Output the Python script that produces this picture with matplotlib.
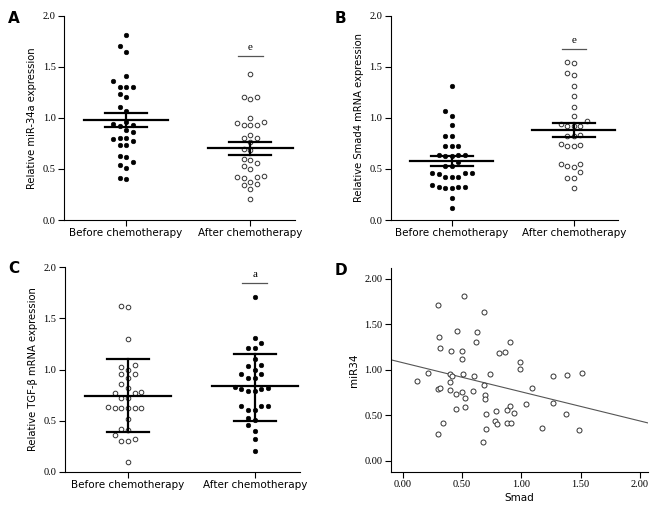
import numpy as np
import matplotlib
matplotlib.use("Agg")
import matplotlib.pyplot as plt

# ---- values ----
groups = ["Before chemotherapy", "After chemotherapy"]

mir_before = [1.81, 1.70, 1.64, 1.41, 1.36, 1.30, 1.30, 1.30, 1.23, 1.20, 1.11, 1.07,
              0.96, 0.94, 0.93, 0.92, 0.88, 0.86, 0.80, 0.80, 0.79, 0.77, 0.73, 0.73,
              0.63, 0.62, 0.57, 0.54, 0.51, 0.41, 0.40]
mir_after = [1.43, 1.20, 1.20, 1.18, 1.00, 0.96, 0.95, 0.93, 0.93, 0.93, 0.83, 0.80,
             0.80, 0.76, 0.69, 0.68, 0.60, 0.59, 0.56, 0.53, 0.50, 0.43, 0.42, 0.42,
             0.41, 0.37, 0.355, 0.34, 0.30, 0.21]
mir_mean = [0.98, 0.70]
mir_err = [0.07, 0.065]

smad_before = [1.31, 1.07, 1.02, 0.93, 0.82, 0.82, 0.72, 0.72, 0.72, 0.64, 0.64, 0.63,
               0.63, 0.64, 0.57, 0.53, 0.53, 0.46, 0.45, 0.46, 0.46, 0.42, 0.42, 0.42,
               0.32, 0.32, 0.31, 0.31, 0.32, 0.345, 0.22, 0.12]
smad_after = [1.55, 1.54, 1.44, 1.42, 1.31, 1.21, 1.11, 1.02, 0.97, 0.94, 0.92, 0.92,
              0.92, 0.83, 0.82, 0.82, 0.74, 0.73, 0.72, 0.72, 0.55, 0.55, 0.53, 0.52,
              0.47, 0.41, 0.41, 0.31]
smad_mean = [0.58, 0.88]
smad_err = [0.05, 0.07]

tgf_before = [1.625, 1.61, 1.30, 1.04, 1.02, 1.00, 0.96, 0.955, 0.92, 0.855, 0.815,
              0.78, 0.77, 0.77, 0.72, 0.72, 0.63, 0.62, 0.62, 0.62, 0.62, 0.62, 0.52,
              0.42, 0.41, 0.36, 0.32, 0.30, 0.30, 0.10]
tgf_after = [1.71, 1.305, 1.255, 1.21, 1.21, 1.10, 1.04, 1.03, 1.00, 0.96, 0.955, 0.92,
             0.92, 0.83, 0.815, 0.81, 0.81, 0.79, 0.79, 0.64, 0.64, 0.64, 0.60, 0.60,
             0.53, 0.51, 0.46, 0.40, 0.32, 0.205]
tgf_mean = [0.74, 0.84]
tgf_lo = [0.39, 0.50]
tgf_hi = [1.10, 1.15]

smad_x = [0.118, 0.216, 0.298, 0.31, 0.315, 0.30, 0.315, 0.295, 0.337, 0.399, 0.413,
          0.40, 0.40, 0.41, 0.447, 0.447, 0.455, 0.497, 0.503, 0.503, 0.51, 0.517,
          0.525, 0.522, 0.60, 0.596, 0.615, 0.624, 0.688, 0.688, 0.697, 0.697, 0.70,
          0.70, 0.68, 0.736, 0.81, 0.86, 0.79, 0.775, 0.80, 0.88, 0.905, 0.905, 0.88,
          0.91, 0.94, 0.994, 0.994, 1.04, 1.087, 1.177, 1.27, 1.27, 1.38, 1.39, 1.49, 1.51]
mir_y = [0.88, 0.97, 1.71, 1.36, 1.24, 0.79, 0.80, 0.30, 0.41, 0.95, 0.93,
         0.87, 0.775, 1.21, 0.73, 0.57, 1.43, 0.76, 1.21, 1.115, 0.95, 1.81,
         0.69, 0.59, 0.93, 0.77, 1.31, 1.415, 1.64, 0.83, 0.72, 0.68, 0.515,
         0.35, 0.21, 0.95, 1.18, 1.20, 0.545, 0.435, 0.405, 0.56, 0.60, 1.31, 0.41,
         0.42, 0.53, 1.08, 1.005, 0.62, 0.80, 0.365, 0.93, 0.635, 0.51, 0.94, 0.335, 0.96]
fit_intercept = 1.078
fit_slope = -0.32

serif = "Liberation Serif"
sans = "DejaVu Sans"


def swarm(ax, vals, center, gap=6.6):
    # simple beeswarm in pixel space, columns on a fixed grid
    fig = ax.figure
    bb = ax.get_position()
    wpx = bb.width * fig.get_figwidth() * fig.dpi
    hpx = bb.height * fig.get_figheight() * fig.dpi
    x0, x1 = ax.get_xlim()
    y0, y1 = ax.get_ylim()
    sx = wpx / (x1 - x0)
    sy = hpx / (y1 - y0)
    vals = np.asarray(vals)
    xs = np.zeros(len(vals))
    placed = []
    for i in np.argsort(vals):
        y = vals[i] * sy
        for k in [0, -1, 1, -2, 2, -3, 3, -4, 4]:
            x = k * gap
            if all((x - px) ** 2 + (y - py) ** 2 >= (gap * 0.95) ** 2 for px, py in placed):
                break
        placed.append((x, y))
        xs[i] = center + x / sx
    return xs


def dot_panel(ax, data, filled, mean, lo, hi, sig, sig_y, ylabel, err_half=0.17):
    ax.set_xlim(-0.5, 1.36)
    ax.set_ylim(0, 2.0)
    for i, vals in enumerate(data):
        xs = swarm(ax, vals, i)
        if filled[i]:
            ax.scatter(xs, vals, s=11, c="black", edgecolors="black", linewidths=0.4, zorder=3)
        else:
            ax.scatter(xs, vals, s=11, c="white", edgecolors="#333333", linewidths=0.7, zorder=3)
        ax.plot([i - 0.34, i + 0.34], [mean[i], mean[i]], color="black", lw=1.6, zorder=4)
        ax.plot([i - err_half, i + err_half], [lo[i], lo[i]], color="black", lw=1.6, zorder=4)
        ax.plot([i - err_half, i + err_half], [hi[i], hi[i]], color="black", lw=1.6, zorder=4)
        ax.plot([i, i], [lo[i], hi[i]], color="black", lw=1.6, zorder=4)
    ax.plot([0.9, 1.1], [sig_y, sig_y], color="#555555", lw=0.9)
    ax.text(1, sig_y + 0.04, sig, ha="center", va="bottom", fontsize=8, family=serif)
    ax.set_xticks([0, 1])
    ax.set_xticklabels(groups, fontsize=7.5, family=sans)
    ax.set_yticks([0, 0.5, 1.0, 1.5, 2.0])
    ax.set_yticklabels(["0.0", "0.5", "1.0", "1.5", "2.0"], fontsize=7.5, family=serif)
    ax.set_ylabel(ylabel, fontsize=7.2, family=sans, labelpad=4)
    for s in ["top", "right"]:
        ax.spines[s].set_visible(False)
    for s in ["left", "bottom"]:
        ax.spines[s].set_linewidth(0.8)
    ax.tick_params(length=4, width=0.8, pad=2)


fig = plt.figure(figsize=(6.6, 5.15), dpi=100)

axA = fig.add_axes([0.097, 0.5728, 0.350, 0.397])
dot_panel(axA, [mir_before, mir_after], [True, False], mir_mean,
          [m - e for m, e in zip(mir_mean, mir_err)],
          [m + e for m, e in zip(mir_mean, mir_err)],
          "e", 1.60, "Relative miR-34a expression")

axB = fig.add_axes([0.592, 0.5728, 0.344, 0.397])
dot_panel(axB, [smad_before, smad_after], [True, False], smad_mean,
          [m - e for m, e in zip(smad_mean, smad_err)],
          [m + e for m, e in zip(smad_mean, smad_err)],
          "e", 1.67, "Relative Smad4 mRNA expression")

axC = fig.add_axes([0.098, 0.084, 0.357, 0.397])
dot_panel(axC, [tgf_before, tgf_after], [False, True], tgf_mean, tgf_lo, tgf_hi,
          "a", 1.85, "Relative TGF-β mRNA expression", err_half=0.165)

axD = fig.add_axes([0.592, 0.084, 0.390, 0.396])
axD.set_xlim(-0.1, 2.07)
axD.set_ylim(-0.12, 2.12)
axD.scatter(smad_x, mir_y, s=13, c="white", edgecolors="#333333", linewidths=0.7, zorder=3)
xl = np.array(axD.get_xlim())
axD.plot(xl, fit_intercept + fit_slope * xl, color="#555555", lw=0.8)
axD.set_xticks([0, 0.5, 1.0, 1.5, 2.0])
axD.set_xticklabels(["0.00", "0.50", "1.00", "1.50", "2.00"], fontsize=7.5, family=serif)
axD.set_yticks([0, 0.5, 1.0, 1.5, 2.0])
axD.set_yticklabels(["0.00", "0.50", "1.00", "1.50", "2.00"], fontsize=7.5, family=serif)
axD.set_xlabel("Smad", fontsize=7.5, family=sans, labelpad=3)
axD.set_ylabel("miR34", fontsize=7.5, family=sans, labelpad=4)
for s in ["top", "right"]:
    axD.spines[s].set_visible(False)
for s in ["left", "bottom"]:
    axD.spines[s].set_linewidth(0.8)
axD.tick_params(length=4, width=0.8, pad=2)

for lab, x, y in [("A", 0.012, 0.965), ("B", 0.507, 0.965),
                  ("C", 0.012, 0.478), ("D", 0.507, 0.474)]:
    fig.text(x, y, lab, fontsize=11, fontweight="bold", family=sans, va="center")

fig.savefig("out.png", dpi=100)
